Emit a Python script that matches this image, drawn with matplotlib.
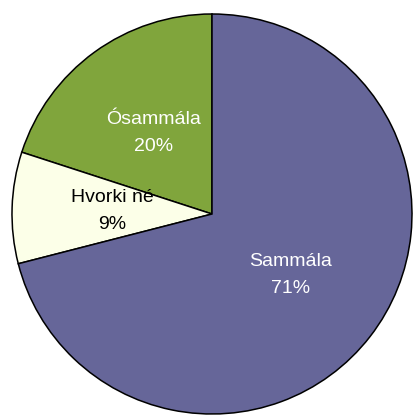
import matplotlib.pyplot as plt

labels = ["Ósammála", "Hvorki né", "Sammála"]
values = [20, 9, 71]
colors = ["#80A53C", "#FCFFE8", "#666699"]
text_colors = ["white", "black", "white"]

plt.rcParams['font.family'] = ['Liberation Sans', 'DejaVu Sans']

fig = plt.figure(figsize=(4.14, 4.15), dpi=100)
# pie centre at about (212, 214) px, radius 200 px
ax = fig.add_axes([12 / 414, 1 / 415, 400 / 414, 400 / 415])

names = iter(labels)


def fmt(pct):
    return "%s\n%.0f%%" % (next(names), pct)


wedges, texts, autotexts = ax.pie(values, colors=colors, startangle=90,
                                  counterclock=True, autopct=fmt, pctdistance=0.5,
                                  wedgeprops=dict(edgecolor="black", linewidth=1.1),
                                  textprops=dict(fontsize=14, linespacing=1.75))
for t, c in zip(autotexts, text_colors):
    t.set_color(c)

ax.set_xlim(-1.0, 1.0)
ax.set_ylim(-1.0, 1.0)
ax.set_aspect('equal')
ax.axis('off')

fig.savefig("out.png", dpi=100)
